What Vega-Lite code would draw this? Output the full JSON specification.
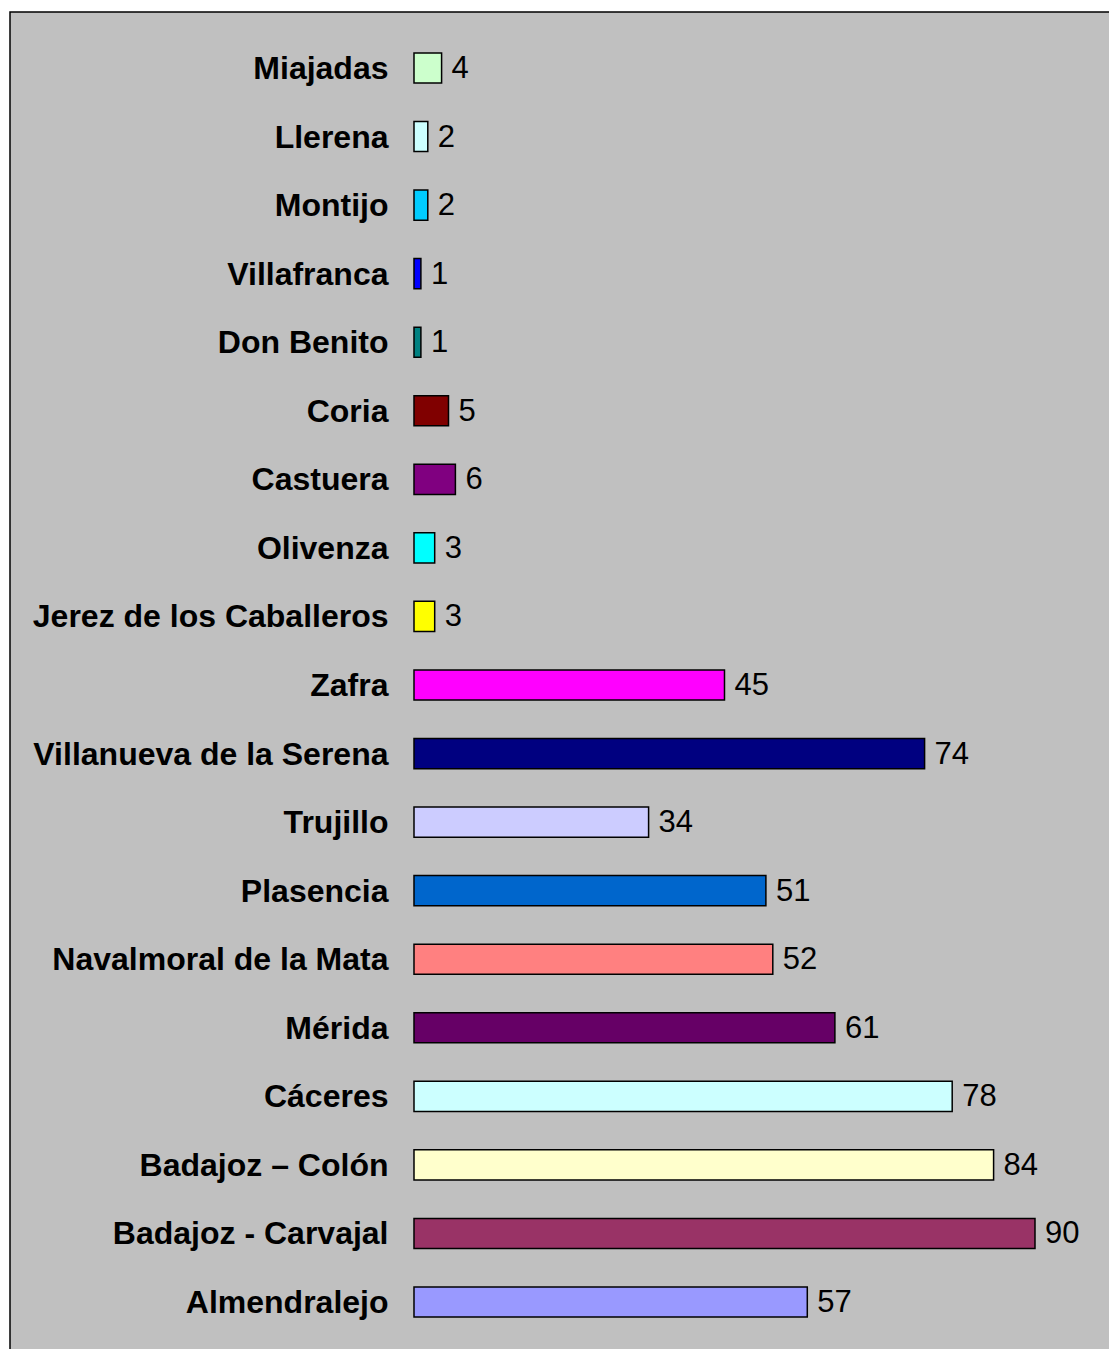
{
  "$schema": "https://vega.github.io/schema/vega-lite/v6.json",
  "autosize": "none",
  "padding": {"left": 10, "top": 12, "right": 0, "bottom": 0},
  "width": 1102,
  "height": 1345,
  "background": "#FFFFFF",
  "config": {
    "view": {"fill": "#C0C0C0", "stroke": "#000000", "strokeWidth": 1.5},
    "font": "Liberation Sans"
  },
  "data": {
    "values": [
      {"centro": "Miajadas", "valor": 4, "color": "#CCFFCC"},
      {"centro": "Llerena", "valor": 2, "color": "#CCFFFF"},
      {"centro": "Montijo", "valor": 2, "color": "#00CCFF"},
      {"centro": "Villafranca", "valor": 1, "color": "#0000FF"},
      {"centro": "Don Benito", "valor": 1, "color": "#008080"},
      {"centro": "Coria", "valor": 5, "color": "#800000"},
      {"centro": "Castuera", "valor": 6, "color": "#800080"},
      {"centro": "Olivenza", "valor": 3, "color": "#00FFFF"},
      {"centro": "Jerez de los Caballeros", "valor": 3, "color": "#FFFF00"},
      {"centro": "Zafra", "valor": 45, "color": "#FF00FF"},
      {"centro": "Villanueva de la Serena", "valor": 74, "color": "#000080"},
      {"centro": "Trujillo", "valor": 34, "color": "#CCCCFF"},
      {"centro": "Plasencia", "valor": 51, "color": "#0066CC"},
      {"centro": "Navalmoral de la Mata", "valor": 52, "color": "#FF8080"},
      {"centro": "Mérida", "valor": 61, "color": "#660066"},
      {"centro": "Cáceres", "valor": 78, "color": "#CCFFFF"},
      {"centro": "Badajoz – Colón", "valor": 84, "color": "#FFFFCC"},
      {"centro": "Badajoz - Carvajal", "valor": 90, "color": "#993366"},
      {"centro": "Almendralejo", "valor": 57, "color": "#9999FF"}
    ]
  },
  "encoding": {
    "y": {
      "field": "centro",
      "type": "nominal",
      "sort": null,
      "scale": {"range": [21.7, 1324.3], "paddingInner": 0.56, "paddingOuter": 0.28},
      "axis": {
        "title": null,
        "offset": -404,
        "domain": false,
        "ticks": false,
        "grid": false,
        "labelPadding": 26,
        "labelFontSize": 32,
        "labelFontWeight": "bold",
        "labelColor": "#000000",
        "labelLimit": 700,
        "labelFont": "Liberation Sans",
        "labelOffset": 1
      }
    },
    "x": {
      "field": "valor",
      "type": "quantitative",
      "scale": {"domain": [-58.55, 101.16], "nice": false, "zero": false},
      "axis": null
    }
  },
  "layer": [
    {
      "mark": {"type": "bar", "stroke": "#000000", "strokeWidth": 1.5},
      "encoding": {
        "x2": {"datum": 0},
        "color": {"field": "color", "type": "nominal", "scale": null, "legend": null}
      }
    },
    {
      "mark": {"type": "text", "align": "left", "baseline": "middle", "dx": 10, "dy": 1, "fontSize": 31, "font": "Liberation Sans", "color": "#000000"},
      "encoding": {
        "text": {"field": "valor", "type": "quantitative"}
      }
    }
  ]
}
